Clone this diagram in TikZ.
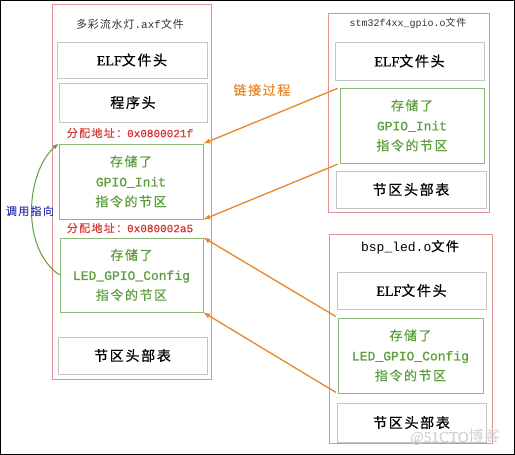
\documentclass[tikz,border=0pt]{standalone}
\usepackage{fontspec}
\setmainfont[FakeBold=0.8]{Liberation Serif}
\newfontfamily\cjk[LetterSpace=12, FakeBold=0.6]{Noto Sans CJK SC}
\newfontfamily\cjklight[LetterSpace=8]{Noto Sans CJK SC}
\newfontfamily\code[FakeBold=1.2]{Liberation Mono}
\newfontfamily\codelight{Liberation Mono}
\newcommand{\zh}[1]{{\cjk #1}}
\newcommand{\zhl}[1]{{\cjklight #1}}
\usepackage{tikz}
\tikzset{>=latex}

\definecolor{boxred}{HTML}{E09090}
\definecolor{addrred}{HTML}{D03A3A}
\definecolor{secgreen}{HTML}{5E9E3E}
\definecolor{secline}{HTML}{8DB879}
\definecolor{linkorange}{HTML}{E8862A}
\definecolor{callblue}{HTML}{3A3AB0}
\definecolor{hdrgray}{HTML}{C4C4C4}

\tikzset{
  filebox/.style={draw=boxred, line width=0.8pt, inner sep=0pt},
  hdrbox/.style={draw=hdrgray, line width=0.8pt, inner sep=0pt, font=\fontsize{14}{16}\selectfont},
  secbox/.style={draw=secline, line width=0.9pt, inner sep=0pt, align=center,
    text=secgreen, font=\code\fontsize{13}{20}\selectfont},
  ftitle/.style={text=black!80, font=\codelight\fontsize{11}{13}\selectfont},
  addr/.style={text=addrred, font=\code\fontsize{11}{13}\selectfont},
  linkarrow/.style={->, draw=linkorange, line width=1.3pt, shorten <=2pt},
}

\begin{document}
\begin{tikzpicture}[x=1pt, y=-1pt]
\useasboundingbox (0,0) rectangle (515,455);
\draw[line width=1pt] (0.5,0.5) rectangle (514.5,454.5);

% output file
\node[filebox, minimum width=159, minimum height=375] (axf) at (131.5,191.5) {};
\node[ftitle] (axftitle) at (130,24) {\zhl{多彩流水灯}.axf\zhl{文件}};
\node[hdrbox, minimum width=150, minimum height=36] (axfelf) at (132,60) {ELF\zh{文件头}};
\node[hdrbox, minimum width=148, minimum height=39] (axfprog) at (133,102.5) {\zh{程序头}};
\node[addr] (addrA) at (130,133) {\zh{分配地址：}0x0800021f};
\node[secbox, minimum width=144, minimum height=75] (axfgpio) at (131,181.5) {\zh{存储了}\\GPIO\_Init\\\zh{指令的节区}};
\node[addr] (addrB) at (130,228) {\zh{分配地址：}0x080002a5};
\node[secbox, minimum width=143, minimum height=74] (axfled) at (131.5,275) {\zh{存储了}\\LED\_GPIO\_Config\\\zh{指令的节区}};
\node[hdrbox, minimum width=149, minimum height=37] (axfshdr) at (132.5,355.5) {\zh{节区头部表}};

% stm32f4xx_gpio.o
\node[filebox, minimum width=161, minimum height=199] (gpiof) at (408.5,112.5) {};
\node[ftitle, font=\codelight\fontsize{10}{12}\selectfont] (gpiotitle) at (408,23) {stm32f4xx\_gpio.o\zhl{文件}};
\node[hdrbox, minimum width=149, minimum height=38] (gpioelf) at (409.5,61) {ELF\zh{文件头}};
\node[secbox, minimum width=144, minimum height=75] (gpiosec) at (412,125.5) {\zh{存储了}\\GPIO\_Init\\\zh{指令的节区}};
\node[hdrbox, minimum width=150, minimum height=37] (gpioshdr) at (411,189.5) {\zh{节区头部表}};

% bsp_led.o
\node[filebox, minimum width=163, minimum height=209] (ledf) at (410.5,338.5) {};
\node[ftitle, text=black, font=\codelight\fontsize{13}{15}\selectfont] (ledtitle) at (410,247) {bsp\_led.o\zh{文件}};
\node[hdrbox, minimum width=149, minimum height=37] (ledelf) at (411.5,290.5) {ELF\zh{文件头}};
\node[secbox, minimum width=145, minimum height=75] (ledsec) at (410.5,355.5) {\zh{存储了}\\LED\_GPIO\_Config\\\zh{指令的节区}};
\node[hdrbox, minimum width=149, minimum height=39] (ledshdr) at (411.5,422.5) {\zh{节区头部表}};

% linking
\node[text=linkorange, font=\fontsize{13}{15}\selectfont] (linklabel) at (262,90) {\zh{链接过程}};
\draw[linkarrow] (gpiosec.north west) -- (axfgpio.north east);
\draw[linkarrow] (gpiosec.south west) -- (axfgpio.south east);
\draw[linkarrow] (ledsec.north west) -- (axfled.north east);
\draw[linkarrow] (ledsec.south west) -- (axfled.south east);

% call
\draw[->, draw=secgreen, line width=1pt] (axfled.west) .. controls (20,248) and (26,172) .. (axfgpio.north west);
\node[text=callblue, font=\fontsize{11}{13}\selectfont] (calllabel) at (30,211) {\zh{调用指向}};

\node[text=gray!35, font=\fontsize{15}{17}\selectfont] (mark) at (455,437) {@51CTO\zhl{博客}};
\end{tikzpicture}
\end{document}
